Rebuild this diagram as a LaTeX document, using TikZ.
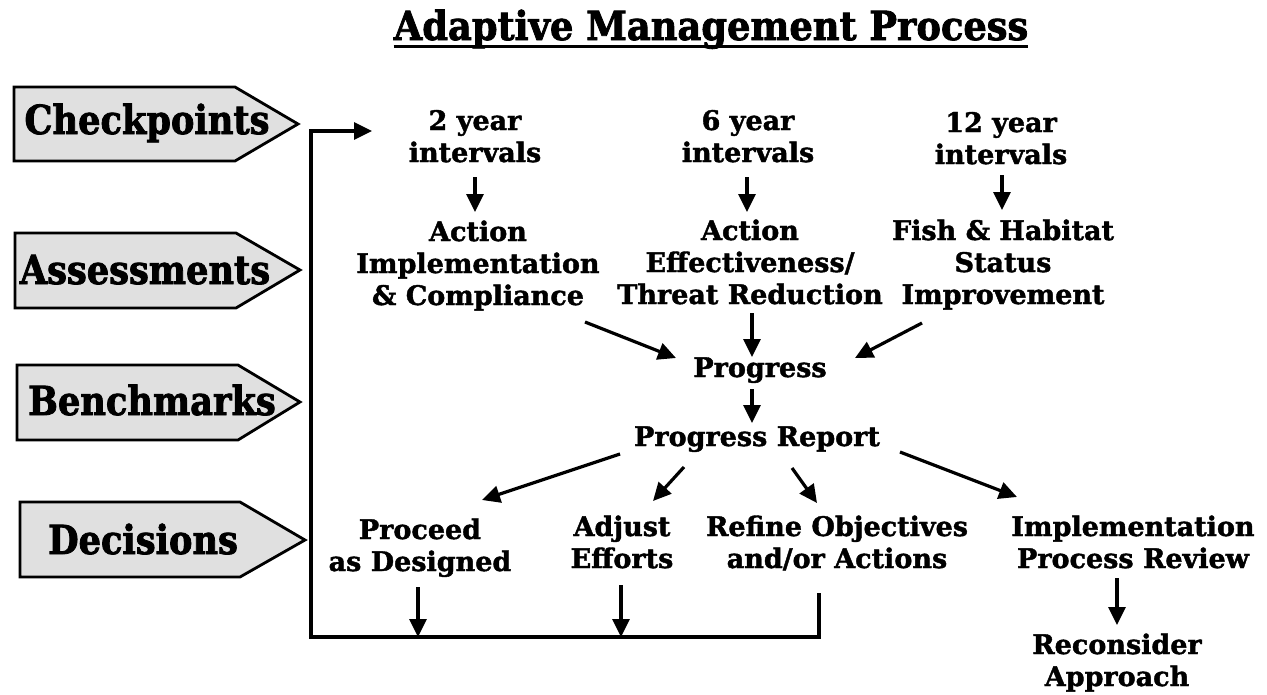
\documentclass[tikz,border=0pt]{standalone}
\usepackage{fontspec}
% heavy serif faces for labels, headings and signposts
\newfontfamily\labelface[FakeBold=1.5]{DejaVu Serif Bold}
\newfontfamily\tagface[FakeStretch=0.88,FakeBold=2]{DejaVu Serif Bold}
\newfontfamily\headface[FakeStretch=0.92,FakeBold=2]{DejaVu Serif Bold}
\usetikzlibrary{arrows.meta,calc}
\begin{document}
\begin{tikzpicture}[x=1pt,y=-1pt,
  txt/.style={font=\labelface\fontsize{27}{32}\selectfont, align=center, inner sep=0pt, anchor=base},
  tag/.style={font=\tagface\fontsize{40}{40}\selectfont, inner sep=0pt, anchor=base},
  flow/.style={line width=3.2pt, -{Triangle[length=18pt,width=17pt]}},
  loopline/.style={line width=3.2pt, line join=miter},
  sign/.style={fill=black!12, draw=black, line width=2.8pt, line join=miter}]
\useasboundingbox (0,0) rectangle (1267,694);
\fill[white] (0,0) rectangle (1267,694);

% title
\node[font=\headface\fontsize{40}{40}\selectfont, inner sep=0pt, anchor=base] (title) at (711,40) {Adaptive Management Process};
\draw[line width=3pt] ($(title.base west)+(0,6)$) -- ($(title.base east)+(0,6)$);

% signposts on the left
\draw[sign] (14,87) -- (235,87) -- (298,124) -- (235,161) -- (14,161) -- cycle;
\draw[sign] (15,233) -- (236,233) -- (300,270) -- (236,308) -- (15,308) -- cycle;
\draw[sign] (17,365) -- (238,365) -- (300,402) -- (238,440) -- (17,440) -- cycle;
\draw[sign] (20,502) -- (240,502) -- (305,540) -- (240,577) -- (20,577) -- cycle;
\node[tag] (chk) at (147,134) {Checkpoints};
\node[tag] (ass) at (145,284) {Assessments};
\node[tag] (ben) at (152,415) {Benchmarks};
\node[tag] (dec) at (143,554) {Decisions};

% monitoring intervals and what is assessed at each
\node[txt] (y2)  at (475,162)  {2 year\\intervals};
\node[txt] (y6)  at (748,162)  {6 year\\intervals};
\node[txt] (y12) at (1001,164) {12 year\\intervals};
\node[txt] (ai)  at (478,305)  {Action\\Implementation\\\& Compliance};
\node[txt] (ae)  at (750,304)  {Action\\Effectiveness/\\Threat Reduction};
\node[txt] (fh)  at (1003,304) {Fish \& Habitat\\Status\\Improvement};
\node[txt] (prog) at (760,377) {Progress};
\node[txt] (rep)  at (757,446) {Progress Report};
\node[txt] (proc) at (420,571) {Proceed\\as Designed};
\node[txt] (adj)  at (622,568) {Adjust\\Efforts};
\node[txt] (ref)  at (837,568) {Refine Objectives\\and/or Actions};
\node[txt] (ipr)  at (1133,568) {Implementation\\Process Review};
\node[txt] (rec)  at (1117,686) {Reconsider\\Approach};

% flow from checkpoints to decisions
\draw[flow] ($(y2.base)+(0,15)$)  -- ($(ai.base)+(-3,-93)$);
\draw[flow] ($(y6.base)+(-1,15)$) -- ($(ae.base)+(-3,-92)$);
\draw[flow] ($(y12.base)+(1,11)$) -- ($(fh.base)+(-1,-94)$);
\draw[flow] ($(ai.base)+(107,17)$)  -- ($(prog.base)+(-84,-19)$);
\draw[flow] ($(ae.base)+(2,9)$)     -- ($(prog.base)+(-8,-20)$);
\draw[flow] ($(fh.base)+(-81,19)$)  -- ($(prog.base)+(95,-19)$);
\draw[flow] ($(prog.base)+(-8,12)$) -- ($(rep.base)+(-5,-23)$);
\draw[flow] ($(rep.base)+(-137,8)$) -- ($(proc.base)+(62,-71)$);
\draw[flow] ($(rep.base)+(-73,21)$) -- ($(adj.base)+(31,-67)$);
\draw[flow] ($(rep.base)+(35,22)$)  -- ($(ref.base)+(-20,-65)$);
\draw[flow] ($(rep.base)+(143,6)$)  -- ($(ipr.base)+(-116,-71)$);
\draw[flow] ($(ipr.base)+(-16,10)$) -- ($(rec.base)+(0,-61)$);

% feedback loop back to the checkpoints
\coordinate (loopstart) at ($(ref.base)+(-18,25)$);
\coordinate (loopend) at ($(y2.base)+(-103,-31)$);
\coordinate (bl) at (311,637);
\coordinate (br) at (loopstart |- bl);
\draw[loopline, -{Triangle[length=18pt,width=17pt]}]
  (loopstart) -- (br) -- (bl) -- (bl |- loopend) -- (loopend);
\coordinate (procdrop) at ($(proc.base)+(-2,16)$);
\coordinate (adjdrop) at ($(adj.base)+(-1,17)$);
\draw[flow] (procdrop) -- (procdrop |- bl);
\draw[flow] (adjdrop) -- (adjdrop |- bl);
\end{tikzpicture}
\end{document}
